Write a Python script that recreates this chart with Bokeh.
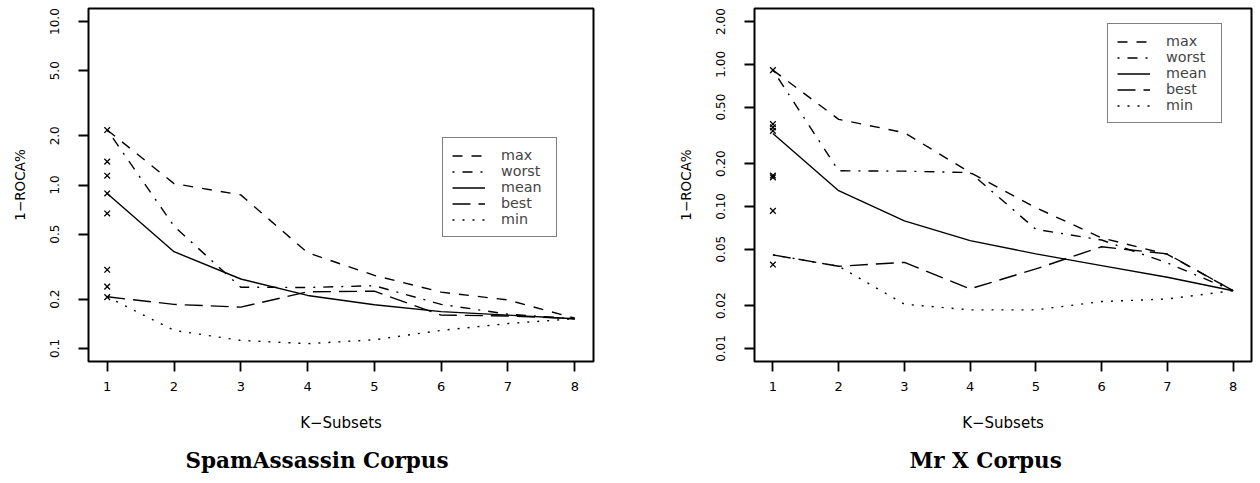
from bokeh.plotting import figure
from bokeh.models import (Range1d, FixedTicker, CustomJSTickFormatter, Legend,
                          LegendItem, Title)
from bokeh.layouts import row
from bokeh.embed import file_html
from bokeh.resources import INLINE

# ---------------- data ----------------
k_subsets = [1, 2, 3, 4, 5, 6, 7, 8]

# SpamAssassin corpus
sa_max   = [2.17, 1.02, 0.87, 0.385, 0.28, 0.221, 0.198, 0.153]
sa_worst = [2.17, 0.56, 0.237, 0.236, 0.242, 0.186, 0.162, 0.152]
sa_mean  = [0.888, 0.391, 0.266, 0.211, 0.185, 0.168, 0.160, 0.152]
sa_best  = [0.207, 0.186, 0.179, 0.222, 0.224, 0.160, 0.158, 0.152]
sa_min   = [0.207, 0.129, 0.112, 0.107, 0.113, 0.129, 0.142, 0.152]
sa_single = [2.17, 1.39, 1.14, 0.888, 0.67, 0.303, 0.239, 0.206]

# Mr X corpus
mx_max   = [0.91, 0.41, 0.33, 0.173, 0.098, 0.060, 0.046, 0.0255]
mx_worst = [0.91, 0.178, 0.177, 0.173, 0.069, 0.058, 0.040, 0.0255]
mx_mean  = [0.326, 0.129, 0.079, 0.0574, 0.0463, 0.0383, 0.0317, 0.0255]
mx_best  = [0.0456, 0.0379, 0.0404, 0.0263, 0.0363, 0.052, 0.0463, 0.0255]
mx_min   = [0.0456, 0.0379, 0.0205, 0.0187, 0.0187, 0.0214, 0.0223, 0.0255]
mx_single = [0.91, 0.38, 0.36, 0.34, 0.165, 0.16, 0.093, 0.039]

x_tick_labels = ["1", "2", "3", "4", "5", "6", "7", "8"]
sa_y_ticks = [0.1, 0.2, 0.5, 1.0, 2.0, 5.0, 10.0]
mx_y_ticks = [0.01, 0.02, 0.05, 0.1, 0.2, 0.5, 1.0, 2.0]

series_names = ["max", "worst", "mean", "best", "min"]
dashes = ["10 9", "2 8 10 8", "solid", "18 8", "2 8"]

SANS = "DejaVu Sans"


def panel(series, single, y_ticks, decimals, y_range, title, width,
          border_left, border_right, legend_loc, title_left):
    p = figure(width=width, height=483, y_axis_type="log",
               x_range=Range1d(0.72, 8.28), y_range=Range1d(*y_range),
               output_backend="svg", toolbar_location=None,
               min_border_left=border_left, min_border_right=border_right,
               min_border_top=8, min_border_bottom=122)
    p.grid.visible = False
    p.background_fill_color = "white"
    p.border_fill_color = "white"
    p.outline_line_color = "black"
    p.outline_line_width = 2

    items = []
    for name, ys, dash in zip(series_names, series, dashes):
        r = p.line(k_subsets, ys, line_color="black", line_width=1.4,
                   line_dash=dash)
        items.append(LegendItem(label=name, renderers=[r]))
    p.scatter([k_subsets[0]] * len(single), single, marker="x", size=8,
              line_color="black", line_width=1.3)

    # x axis
    xa = p.xaxis[0]
    xa.ticker = FixedTicker(ticks=k_subsets)
    xa.major_label_overrides = {t: s for t, s in zip(k_subsets, x_tick_labels)}
    xa.axis_label = "K\u2212Subsets"
    # y axis
    ya = p.yaxis[0]
    ya.ticker = FixedTicker(ticks=y_ticks, minor_ticks=[])
    ya.formatter = CustomJSTickFormatter(code="return tick.toFixed(%d)" % decimals)
    ya.axis_label = "1\u2212ROCA%"
    ya.major_label_orientation = "vertical"
    for ax in (xa, ya):
        ax.axis_line_color = None
        ax.major_tick_in = 0
        ax.major_tick_out = 10
        ax.major_tick_line_width = 1.8
        ax.minor_tick_line_color = None
        ax.major_label_text_font = SANS
        ax.major_label_text_color = "black"
        ax.axis_label_text_font = SANS
        ax.axis_label_text_font_style = "normal"
        ax.axis_label_text_color = "black"
    xa.major_label_text_font_size = "13px"
    xa.major_label_standoff = 10
    xa.axis_label_text_font_size = "15px"
    xa.axis_label_standoff = 20
    ya.major_label_text_font_size = "12px"
    ya.major_label_standoff = 19
    ya.axis_label_text_font_size = "13.5px"
    ya.axis_label_standoff = 20

    leg = Legend(items=items, location=legend_loc, margin=0, padding=9,
                 spacing=0, glyph_width=33, glyph_height=15, label_height=15,
                 label_width=46, label_standoff=16,
                 label_text_font=SANS, label_text_font_size="14.3px",
                 border_line_color="black", border_line_width=1.5,
                 background_fill_color="white", background_fill_alpha=1)
    p.add_layout(leg)

    p.add_layout(Title(text=title, align="left", offset=title_left,
                       standoff=22, text_font="DejaVu Serif",
                       text_font_style="bold", text_font_size="21.5px",
                       text_color="black"), "below")
    return p


p1 = panel([sa_max, sa_worst, sa_mean, sa_best, sa_min], sa_single,
           sa_y_ticks, 1, (0.0832, 12.02), "SpamAssassin Corpus",
           628, 88, 35, (354, 124), 97)
p2 = panel([mx_max, mx_worst, mx_mean, mx_best, mx_min], mx_single,
           mx_y_ticks, 2, (0.0081, 2.47), "Mr X Corpus",
           632, 126, 9, (353, 238), 155)

layout = row(p1, p2)
open("out.html", "w").write(file_html(layout, INLINE))
